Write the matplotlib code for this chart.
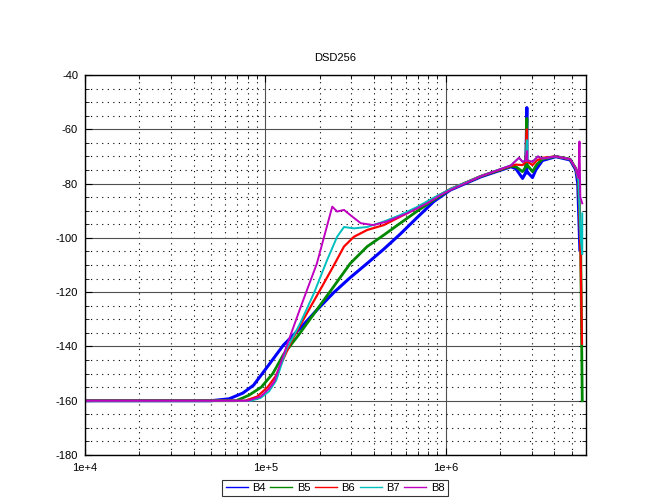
import matplotlib
matplotlib.use("Agg")
import matplotlib.pyplot as plt
from matplotlib.lines import Line2D
from matplotlib.ticker import FixedLocator, MultipleLocator, NullFormatter

plt.rcParams['font.family'] = ['Liberation Sans', 'DejaVu Sans']

title = "DSD256"
labels = ["B4", "B5", "B6", "B7", "B8"]
colors = ["#0000ff", "#008800", "#ff0000", "#00bfbf", "#c000c0"]

b4_f = [1e4, 5.0e4, 6.3e4, 7.5e4, 8.6e4, 1.0e5, 1.1e5, 1.26e5, 1.56e5, 1.93e5, 2.39e5, 2.96e5,
        3.67e5, 4.53e5, 5.6e5, 6.9e5, 8.6e5, 1.06e6, 1.57e6, 2.3e6, 2.45e6, 2.67e6, 2.78e6,
        2.82e6, 2.82e6, 2.86e6, 3.03e6, 3.16e6, 3.3e6, 3.44e6, 4.08e6, 4.9e6, 5.27e6, 5.4e6, 5.55e6]
b4_db = [-160, -160, -159.3, -157.2, -154.3, -148.5, -144.8, -139.5, -133.3, -126.6, -120.2, -114.6,
         -109.4, -104.2, -98.6, -92.7, -86.6, -82.4, -77.5, -73.8, -74.5, -78.1, -76,
         -52, -76, -76, -77.8, -75, -73.2, -71.5, -70.1, -71.3, -75, -80, -104.5]

b5_f = [1e4, 6.9e4, 8.1e4, 9.5e4, 1.1e5, 1.26e5, 1.56e5, 1.93e5, 2.39e5, 2.96e5, 3.67e5, 4.53e5,
        5.6e5, 6.9e5, 8.6e5, 1.06e6, 1.57e6, 2.3e6, 2.45e6, 2.67e6, 2.78e6, 2.82e6, 2.82e6,
        2.86e6, 3.03e6, 3.2e6, 3.44e6, 4.08e6, 4.9e6, 5.27e6, 5.45e6, 5.6e6, 5.72e6]
b5_db = [-160, -160, -158, -155, -150, -143, -135, -126.5, -118, -109.4, -103.2, -99,
         -94.6, -90.3, -86, -82.2, -77.3, -73.6, -73.8, -75.6, -73.8, -56, -73.8,
         -73.5, -75.6, -73, -71, -70, -71, -74.5, -79, -100, -160]

b6_f = [1e4, 7.7e4, 9.0e4, 1.03e5, 1.14e5, 1.4e5, 1.7e5, 2.02e5, 2.39e5, 2.73e5, 3.1e5, 3.67e5,
        4.53e5, 5.6e5, 6.9e5, 8.6e5, 1.06e6, 1.57e6, 2.3e6, 2.45e6, 2.67e6, 2.78e6, 2.82e6,
        2.82e6, 2.86e6, 3.03e6, 3.2e6, 3.44e6, 4.08e6, 4.9e6, 5.27e6, 5.45e6, 5.6e6, 5.7e6]
b6_db = [-160, -160, -158.5, -155, -151, -137.8, -127.8, -119, -110.3, -103.2, -99.6, -97.1,
         -95.3, -92.2, -89.1, -85.4, -82, -77.2, -73.5, -73, -73.2, -72, -60,
         -72, -72, -73.2, -71.5, -70.5, -70, -71, -74.5, -79, -106, -139]

b7_f = [1e4, 8.3e4, 9.4e4, 1.05e5, 1.15e5, 1.31e5, 1.56e5, 1.86e5, 2.2e5, 2.5e5, 2.73e5, 3.1e5,
        3.67e5, 4.53e5, 5.6e5, 6.9e5, 8.6e5, 1.06e6, 1.57e6, 2.3e6, 2.55e6, 2.67e6, 2.78e6,
        2.82e6, 2.82e6, 2.86e6, 3.03e6, 3.25e6, 3.44e6, 4.08e6, 4.9e6, 5.27e6, 5.45e6, 5.6e6,
        5.72e6, 5.72e6]
b7_db = [-160, -160, -159, -156.5, -152.5, -141, -131.5, -120.4, -108.2, -99.6, -96, -96.5,
         -96, -94, -91.6, -88.7, -85.2, -82, -77.2, -73.3, -70.5, -72, -71.5,
         -64, -71.5, -71.5, -72, -70, -70.8, -70, -71, -74.5, -79, -100,
         -106, -91]

b8_f = [1e4, 8.0e4, 9.4e4, 1.05e5, 1.12e5, 1.31e5, 1.6e5, 1.93e5, 2.35e5, 2.5e5, 2.73e5, 2.96e5,
        3.38e5, 3.97e5, 4.72e5, 6.1e5, 7.9e5, 9.4e5, 1.06e6, 1.57e6, 2.3e6, 2.55e6, 2.67e6,
        2.78e6, 2.82e6, 2.82e6, 2.86e6, 3.03e6, 3.25e6, 3.44e6, 4.08e6, 4.9e6, 5.27e6, 5.45e6,
        5.52e6, 5.58e6, 5.72e6]
b8_db = [-160, -160, -158.5, -155.5, -153, -140, -124, -109.5, -88.5, -90.3, -89.7, -91.6,
         -94.6, -95.3, -94, -91, -87.3, -84.2, -82.4, -77.3, -73.3, -70.5, -72,
         -71.5, -68, -71.5, -71.5, -72, -70, -70.8, -70, -71, -74.5, -78,
         -64.5, -85, -87.3]

series_f = [b4_f, b5_f, b6_f, b7_f, b8_f]
series_db = [b4_db, b5_db, b6_db, b7_db, b8_db]
widths = [2.2, 2.0, 1.6, 1.4, 1.4]

xticks = [1e4, 1e5, 1e6]
xticklabels = ["1e+4", "1e+5", "1e+6"]
yticks = [-180, -160, -140, -120, -100, -80, -60, -40]

fig = plt.figure(figsize=(6.66, 5.0), dpi=100)
ax = fig.add_axes([85/666, 45/500, 501/666, 380/500])
ax.set_xscale('log')
ax.set_xlim(1e4, 6.0e6)
ax.set_ylim(-180, -40)

# grid
ax.xaxis.set_major_locator(FixedLocator(xticks))
ax.set_xticklabels(xticklabels)
minor_x = [m * 10**e for e in range(4, 7) for m in range(2, 10) if m * 10**e < 6.0e6]
ax.xaxis.set_minor_locator(FixedLocator(minor_x))
ax.xaxis.set_minor_formatter(NullFormatter())
ax.yaxis.set_major_locator(FixedLocator(yticks))
ax.set_yticklabels([str(v) for v in yticks])
ax.yaxis.set_minor_locator(MultipleLocator(5))

ax.grid(which='major', color='#505050', linestyle='-', linewidth=0.8)
ax.grid(which='minor', color='black', linestyle=(0, (1, 4)), linewidth=0.8)
ax.set_axisbelow(True)

ax.tick_params(which='both', direction='in', top=True, right=True, labelsize=8, color='black')
ax.tick_params(which='major', length=5, width=0.8)
ax.tick_params(which='minor', length=3, width=0.6)
ax.tick_params(axis='y', pad=5)
ax.tick_params(axis='x', pad=6)
for s in ax.spines.values():
    s.set_linewidth(1.0)
    s.set_color('black')

for f, d, c, w in zip(series_f, series_db, colors, widths):
    ax.plot(f, d, color=c, linewidth=w, solid_joinstyle='round')

ax.set_title(title, fontsize=8, pad=10)

handles = [Line2D([0], [0], color=c, linewidth=1.0) for c in colors]
leg = fig.legend(handles, labels, loc='center', bbox_to_anchor=(335/666, 1 - 488/500),
                 ncol=5, fontsize=8, frameon=True, fancybox=False, handlelength=2.0,
                 columnspacing=0.4, handletextpad=0.4, borderpad=0.3, borderaxespad=0)
leg.get_frame().set_edgecolor('black')
leg.get_frame().set_linewidth(0.8)

fig.savefig("out.png", dpi=100)
